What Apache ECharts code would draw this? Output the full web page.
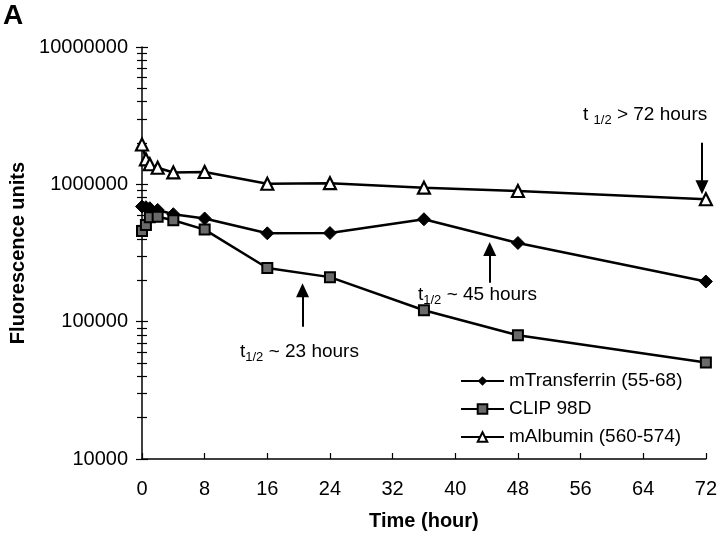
<!DOCTYPE html>
<html>
<head>
<meta charset="utf-8">
<script src="https://cdn.jsdelivr.net/npm/echarts@6/dist/echarts.min.js"></script>
<style>html,body{margin:0;padding:0;background:#fff;}#c{width:720px;height:536px;}</style>
</head>
<body>
<div id="c"></div>
<script>
// ---- data ----
const times = [0, 0.5, 1, 2, 4, 8, 16, 24, 36, 48, 72];
const transferrin = [689000, 681000, 670000, 651000, 606000, 564000, 440000, 442000, 557000, 374000, 196000];
const clip98d = [457000, 505000, 577000, 581000, 548000, 468000, 246000, 211000, 121000, 79600, 50500];
const albumin = [1950000, 1520000, 1400000, 1320000, 1220000, 1230000, 1010000, 1020000, 946000, 894000, 779000];
const seriesNames = ['mTransferrin (55-68)', 'CLIP 98D', 'mAlbumin (560-574)'];
const xTicks = [0, 8, 16, 24, 32, 40, 48, 56, 64, 72];
const yTicks = [10000, 100000, 1000000, 10000000];
// annotation arrows: time, start value, end value (arrow head at end)
const arrowTimes = [20.5, 44.4, 71.5];
const arrowFrom = [92000, 192000, 2010000];
const arrowTo = [169000, 338000, 951000];

const FONT = 'Liberation Sans, Arial, sans-serif';
const pairs = (ys) => times.map((t, i) => [t, ys[i]]);

const chart = echarts.init(document.getElementById('c'), null, {renderer: 'canvas'});

const yBase = {
  type: 'log', logBase: 10, min: yTicks[0], max: yTicks[yTicks.length - 1],
  position: 'left', splitLine: {show: false}
};

const richSub = {
  m: {fontSize: 19, fontFamily: FONT, fill: '#000', lineHeight: 24},
  s: {fontSize: 13, fontFamily: FONT, fill: '#000', verticalAlign: 'bottom', lineHeight: 24}
};

const option = {
  animation: false,
  backgroundColor: '#fff',
  grid: {left: 141, right: 14, top: 47, bottom: 75, containLabel: false},
  xAxis: {
    type: 'value', min: xTicks[0], max: xTicks[xTicks.length - 1], interval: 8,
    axisLine: {lineStyle: {color: '#000', width: 1.5}},
    axisTick: {show: true, inside: true, length: 6, lineStyle: {color: '#000', width: 1.2}},
    axisLabel: {color: '#000', fontSize: 20, fontFamily: FONT, margin: 20},
    splitLine: {show: false},
    name: 'Time (hour)', nameLocation: 'middle', nameGap: 52,
    nameTextStyle: {color: '#000', fontSize: 20, fontWeight: 'bold', fontFamily: FONT}
  },
  yAxis: [
    Object.assign({}, yBase, {
      axisLine: {lineStyle: {color: '#000', width: 1.5}},
      axisTick: {show: true, length: 6, lineStyle: {color: '#000', width: 1.2}},
      minorTick: {show: true, splitNumber: 9, length: 5, lineStyle: {color: '#000', width: 1.2}},
      axisLabel: {color: '#000', fontSize: 20, fontFamily: FONT, margin: 14,
        formatter: (v) => String(Math.round(v))},
      name: 'Fluorescence units', nameLocation: 'middle', nameGap: 114, nameRotate: 90,
      nameTextStyle: {color: '#000', fontSize: 20, fontWeight: 'bold', fontFamily: FONT}
    }),
    Object.assign({}, yBase, {
      axisLine: {show: false},
      axisTick: {show: true, inside: true, length: 6, lineStyle: {color: '#000', width: 1.2}},
      minorTick: {show: true, splitNumber: 9, length: 5, lineStyle: {color: '#000', width: 1.2}},
      axisLabel: {show: false}
    })
  ],
  legend: {
    orient: 'vertical', left: 460, top: 371, padding: 0, itemWidth: 43, itemHeight: 12, itemGap: 8,
    textStyle: {color: '#000', fontSize: 19, fontFamily: FONT, lineHeight: 20},
    data: seriesNames
  },
  series: [
    {
      name: seriesNames[0], type: 'line', data: pairs(transferrin),
      symbol: 'diamond', symbolSize: 13,
      lineStyle: {color: '#000', width: 2.5}, itemStyle: {color: '#000', borderColor: '#000'}
    },
    {
      name: seriesNames[1], type: 'line', data: pairs(clip98d),
      symbol: 'rect', symbolSize: 10,
      lineStyle: {color: '#000', width: 2.5},
      itemStyle: {color: '#6a6a6a', borderColor: '#000', borderWidth: 2}
    },
    {
      name: seriesNames[2], type: 'line', data: pairs(albumin),
      symbol: 'triangle', symbolSize: 12,
      lineStyle: {color: '#000', width: 2.5},
      itemStyle: {color: '#fff', borderColor: '#000', borderWidth: 2.2},
      markLine: {
        silent: true, animation: false,
        symbol: ['none', 'triangle'], symbolSize: [13, 14],
        lineStyle: {color: '#000', width: 2, type: 'solid'},
        label: {show: false},
        data: arrowTimes.map((t, i) => [
          {coord: [t, arrowFrom[i]]},
          {coord: [t, arrowTo[i]]}
        ])
      }
    }
  ],
  graphic: [
    {type: 'text', left: 3, top: 2, style: {text: 'A', fontSize: 28, fontWeight: 'bold', fontFamily: FONT, fill: '#000'}},
    {type: 'text', x: 240, y: 352, style: {
      text: '{m|t}{s|1/2}{m| ~ 23 hours}', verticalAlign: 'middle', align: 'left', rich: richSub}},
    {type: 'text', x: 418, y: 295, style: {
      text: '{m|t}{s|1/2}{m| ~ 45 hours}', verticalAlign: 'middle', align: 'left', rich: richSub}},
    {type: 'text', x: 583, y: 115, style: {
      text: '{m|t }{s|1/2}{m| > 72 hours}', verticalAlign: 'middle', align: 'left', rich: richSub}}
  ]
};
chart.setOption(option);
</script>
</body>
</html>
